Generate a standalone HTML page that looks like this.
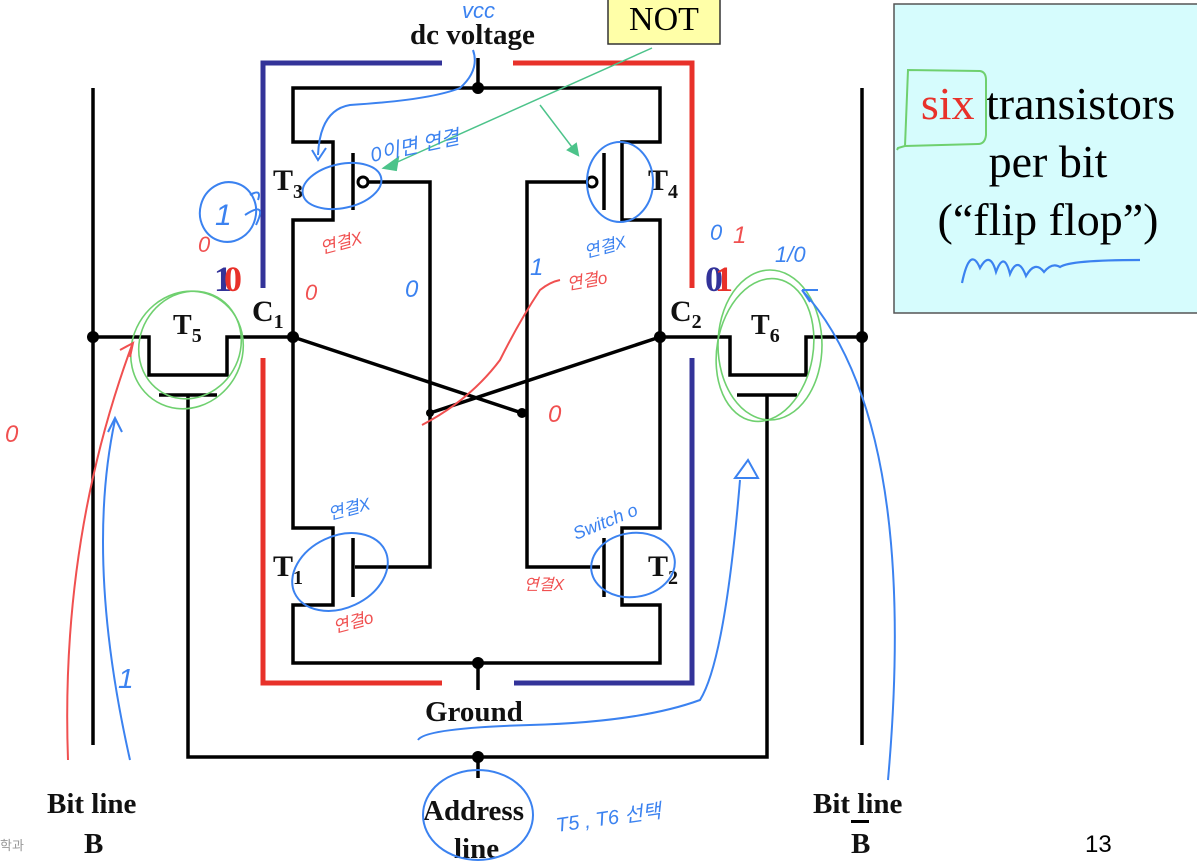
<!DOCTYPE html>
<html><head><meta charset="utf-8"><style>
html,body{margin:0;padding:0;background:#fff;}
svg{display:block;}
.s{font-family:"Liberation Serif",serif;font-weight:bold;fill:#111;}
.h{font-family:"Liberation Sans","Noto Sans CJK KR",sans-serif;}
</style></head><body>
<svg width="1197" height="864" viewBox="0 0 1197 864" xmlns="http://www.w3.org/2000/svg">
<g fill="none" stroke-width="5">
<path d="M263 288 V63 H442" stroke="#333399"/>
<path d="M513 63 H692 V288" stroke="#e8312a"/>
<path d="M263 358 V683 H442" stroke="#e8312a"/>
<path d="M514 683 H692 V358" stroke="#333399"/>
</g>
<g fill="none" stroke="#000" stroke-width="3.5">
<path d="M478 58 V88"/>
<path d="M293 337 V220 H333 V142 H293 V88 H660 V142 H622 V220 H660 V337"/>
<path d="M293 337 V528 H333 V605 H293 V663 H660 V605 H622 V528 H660 V337"/>
<path d="M353 153 V210 M604 153 V210"/>
<path d="M368 182 H430 V567 H355 M587 182 H527 V567 H600"/>
<path d="M353 538 V597 M604 538 V597"/>
<path d="M478 663 V690"/>
<path d="M293 337 L522 413 M660 337 L430 413"/>
<path d="M93 337 H149 V375 H227 V337 H293"/>
<path d="M862 337 H806 V375 H730 V337 H660"/>
<path d="M159 395 H217 M737 395 H797"/>
<path d="M188 395 V757 H767 V395"/>
<path d="M478 757 V778"/>
<path d="M93 88 V745 M862 88 V745"/>
</g>
<circle cx="363" cy="182" r="5" fill="#fff" stroke="#000" stroke-width="3"/>
<circle cx="592" cy="182" r="5" fill="#fff" stroke="#000" stroke-width="3"/>
<g fill="#000">
<circle cx="478" cy="88" r="6"/><circle cx="478" cy="663" r="6"/><circle cx="478" cy="757" r="6"/>
<circle cx="293" cy="337" r="6"/><circle cx="660" cy="337" r="6"/>
<circle cx="93" cy="337" r="6"/><circle cx="862" cy="337" r="6"/>
<circle cx="522" cy="413" r="5"/><circle cx="430" cy="413" r="4"/>
</g>
<text x="410" y="44" class="s" font-size="29">dc voltage</text>
<rect x="608" y="-2" width="112" height="46" fill="#ffffa8" stroke="#333" stroke-width="1.5"/>
<text x="664" y="30" font-family="Liberation Serif,serif" font-size="34" text-anchor="middle">NOT</text>
<text x="273" y="190" class="s" font-size="30">T<tspan font-size="20" dy="8">3</tspan></text>
<text x="648" y="190" class="s" font-size="30">T<tspan font-size="20" dy="8">4</tspan></text>
<text x="252" y="321" class="s" font-size="30">C<tspan font-size="20" dy="7">1</tspan></text>
<text x="670" y="321" class="s" font-size="30">C<tspan font-size="20" dy="7">2</tspan></text>
<text x="173" y="334" class="s" font-size="28">T<tspan font-size="20" dy="8">5</tspan></text>
<text x="751" y="334" class="s" font-size="28">T<tspan font-size="20" dy="8">6</tspan></text>
<text x="273" y="576" class="s" font-size="30">T<tspan font-size="20" dy="8">1</tspan></text>
<text x="648" y="576" class="s" font-size="30">T<tspan font-size="20" dy="8">2</tspan></text>
<text x="214" y="291" class="s" font-size="36" style="fill:#333399">1</text>
<text x="224" y="291" class="s" font-size="36" style="fill:#e8312a">0</text>
<text x="705" y="291" class="s" font-size="36" style="fill:#333399">0</text>
<text x="715" y="291" class="s" font-size="36" style="fill:#e8312a">1</text>
<text x="425" y="721" class="s" font-size="29">Ground</text>
<text x="47" y="813" class="s" font-size="29">Bit line</text>
<text x="84" y="853" class="s" font-size="29">B</text>
<text x="813" y="813" class="s" font-size="29">Bit line</text>
<rect x="851" y="820" width="18" height="3" fill="#000"/>
<text x="851" y="853" class="s" font-size="29">B</text>
<text x="423" y="820" class="s" font-size="29">Address</text>
<text x="454" y="858" class="s" font-size="29">line</text>
<text x="1085" y="852" font-family="Liberation Sans,sans-serif" font-size="24">13</text>
<text x="0" y="850" class="h" font-size="13" fill="#999">학과</text>
<rect x="894" y="4" width="310" height="309" fill="#d6fcfd" stroke="#555" stroke-width="1.5"/>
<text x="1048" y="119" font-family="Liberation Serif,serif" font-size="46" text-anchor="middle"><tspan fill="#e8312a">six</tspan> transistors</text>
<text x="1048" y="177" font-family="Liberation Serif,serif" font-size="46" text-anchor="middle">per bit</text>
<text x="1048" y="235" font-family="Liberation Serif,serif" font-size="46" text-anchor="middle">(“flip flop”)</text>
<path d="M897 150 L898 148 L905 146 L908 70 L980 71 Q986 72 986 80 L986 135 Q985 144 978 144 L905 146" fill="none" stroke="#6fd06f" stroke-width="2"/>
<path d="M962 283 Q970 245 980 268 Q990 250 996 272 Q1004 250 1010 274 Q1018 255 1026 276 Q1035 260 1044 272 Q1052 262 1060 267 Q1070 260 1140 260" fill="none" stroke="#3b82f0" stroke-width="2.2"/>
<g fill="none" stroke-width="2">
<text x="462" y="18" class="h" font-size="22" fill="#3b82f0" stroke="none" font-style="italic">vcc</text>
<path d="M473 50 Q480 70 460 88 Q430 100 350 105 Q320 110 318 155" stroke="#3b82f0"/>
<path d="M312 150 L318 160 L326 148" stroke="#3b82f0"/>
<path d="M652 48 L384 168" stroke="#4cc38a" stroke-width="1.5"/>
<path d="M384 168 L398 158 L396 170 Z" fill="#4cc38a" stroke="#4cc38a"/>
<path d="M540 105 L578 155" stroke="#4cc38a" stroke-width="1.5"/>
<path d="M578 155 L568 150 L576 144 Z" fill="#4cc38a" stroke="#4cc38a"/>
<ellipse cx="342" cy="186" rx="40" ry="22" transform="rotate(-12 342 186)" stroke="#3b82f0"/>
<ellipse cx="620" cy="182" rx="33" ry="40" stroke="#3b82f0"/>
<ellipse cx="228" cy="212" rx="28" ry="30" transform="rotate(15 228 212)" stroke="#3b82f0"/>
<path d="M250 195 Q262 188 258 200 M245 215 Q268 200 256 225" stroke="#3b82f0"/>
<ellipse cx="340" cy="572" rx="50" ry="36" transform="rotate(-25 340 572)" stroke="#3b82f0"/>
<ellipse cx="633" cy="565" rx="42" ry="32" transform="rotate(-8 633 565)" stroke="#3b82f0"/>
<ellipse cx="187" cy="350" rx="55" ry="60" transform="rotate(30 187 350)" stroke="#6fd06f" stroke-width="1.6"/>
<ellipse cx="190" cy="345" rx="50" ry="55" transform="rotate(30 190 345)" stroke="#6fd06f" stroke-width="1.6"/>
<ellipse cx="770" cy="345" rx="52" ry="75" stroke="#6fd06f" stroke-width="1.6"/>
<ellipse cx="765" cy="350" rx="48" ry="72" transform="rotate(10 765 350)" stroke="#6fd06f" stroke-width="1.6"/>
<path d="M68 760 Q60 540 132 345" stroke="#f05050"/>
<path d="M120 350 L133 343 L130 357" stroke="#f05050"/>
<path d="M130 760 Q85 560 115 420" stroke="#3b82f0"/>
<path d="M108 432 L115 418 L122 432" stroke="#3b82f0"/>
<path d="M422 425 Q470 400 500 360 Q520 320 540 290 Q550 282 560 280" stroke="#f05050"/>
<path d="M418 740 Q425 728 530 725 Q640 722 700 700 Q725 660 740 480" stroke="#3b82f0"/>
<path d="M735 478 L748 460 L758 478 Z" stroke="#3b82f0"/>
<path d="M888 780 Q920 420 802 290" stroke="#3b82f0"/>
<path d="M802 290 L818 290 M802 290 L810 302" stroke="#3b82f0"/>
<ellipse cx="478" cy="815" rx="55" ry="45" stroke="#3b82f0"/>
</g>
<g class="h" font-style="italic">
<text x="372" y="162" font-size="20" fill="#3b82f0" transform="rotate(-12 372 162)">0이면 연결</text>
<text x="322" y="254" font-size="17" fill="#f05050" transform="rotate(-15 322 254)">연결X</text>
<text x="586" y="258" font-size="17" fill="#3b82f0" transform="rotate(-15 586 258)">연결X</text>
<text x="568" y="290" font-size="17" fill="#f05050" transform="rotate(-10 568 290)">연결o</text>
<text x="330" y="520" font-size="17" fill="#3b82f0" transform="rotate(-15 330 520)">연결X</text>
<text x="335" y="633" font-size="17" fill="#f05050" transform="rotate(-15 335 633)">연결o</text>
<text x="524" y="590" font-size="16" fill="#f05050">연결X</text>
<text x="576" y="540" font-size="18" fill="#3b82f0" transform="rotate(-22 576 540)">Switch o</text>
<text x="557" y="832" font-size="20" fill="#3b82f0" transform="rotate(-8 557 832)">T5 , T6 선택</text>
<text x="198" y="252" font-size="22" fill="#f05050">0</text>
<text x="215" y="225" font-size="30" fill="#3b82f0">1</text>
<text x="305" y="300" font-size="22" fill="#f05050">0</text>
<text x="405" y="297" font-size="24" fill="#3b82f0">0</text>
<text x="530" y="275" font-size="24" fill="#3b82f0">1</text>
<text x="548" y="422" font-size="24" fill="#f05050">0</text>
<text x="710" y="240" font-size="22" fill="#3b82f0">0</text>
<text x="733" y="243" font-size="24" fill="#f05050">1</text>
<text x="775" y="262" font-size="22" fill="#3b82f0">1/0</text>
<text x="5" y="442" font-size="24" fill="#f05050">0</text>
<text x="118" y="688" font-size="28" fill="#3b82f0">1</text>
</g>
</svg>
</body></html>
